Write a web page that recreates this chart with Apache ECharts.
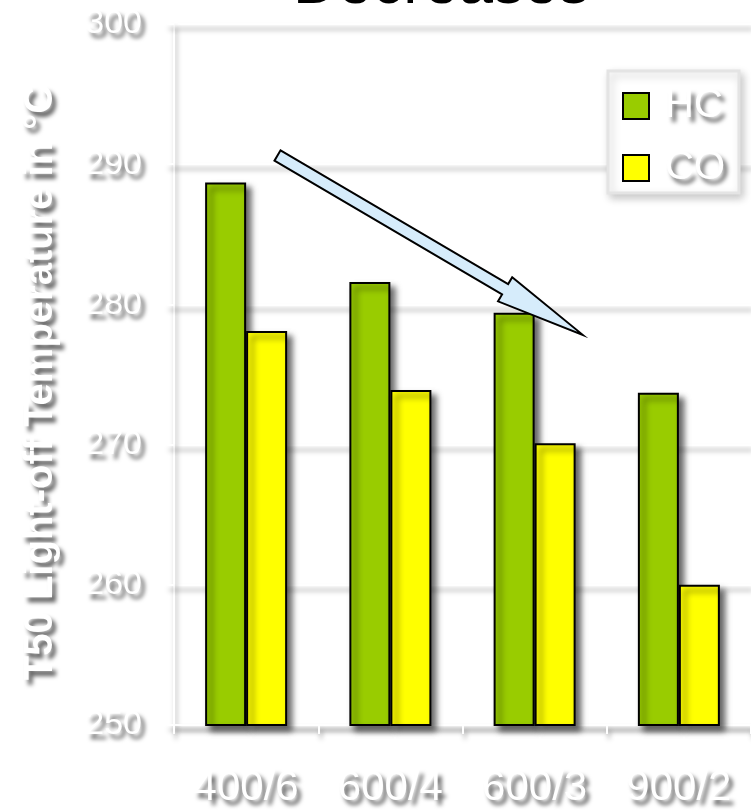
<!DOCTYPE html>
<html>
<head>
<meta charset="utf-8">
<title>T50 Light-off Temperature</title>
<script src="https://cdn.jsdelivr.net/npm/echarts@6/dist/echarts.min.js"></script>
<style>
  html, body { margin: 0; padding: 0; background: #fff; }
  #chart { width: 751px; height: 812px; }
</style>
</head>
<body>
<div id="chart"></div>
<script>
// Cell density / wall thickness variants
const categories = ['400/6', '600/4', '600/3', '900/2'];
// T50 light-off temperatures in °C
const hcValues = [288.7, 281.6, 279.4, 273.7];
const coValues = [278.1, 273.9, 270.1, 260.0];
const yMin = 250;
const yMax = 300;
const yStep = 10;

const FONT = '"Liberation Sans", Arial, sans-serif';

// white text with a grey drop shadow
const embossed = {
  color: '#ffffff',
  fontFamily: FONT,
  fontWeight: 'normal',
  textShadowColor: 'rgba(0,0,0,0.62)',
  textShadowBlur: 4,
  textShadowOffsetX: 4,
  textShadowOffsetY: 5
};

const shadowLine = {
  color: '#ffffff',
  width: 2,
  shadowColor: 'rgba(0,0,0,0.35)',
  shadowBlur: 5,
  shadowOffsetX: 2,
  shadowOffsetY: 5
};

const barShadow = {
  borderColor: '#000',
  borderWidth: 2,
  shadowColor: 'rgba(0,0,0,0.6)',
  shadowBlur: 6,
  shadowOffsetX: 5,
  shadowOffsetY: 5
};

const chart = echarts.init(document.getElementById('chart'), null, { renderer: 'canvas' });

// block arrow pointing down-right, built along the x axis then rotated
const arrowLen = 354, shaftHalf = 6, headHalf = 14, headLen = 90;
const arrowPoints = [
  [0, -shaftHalf], [arrowLen - headLen, -shaftHalf], [arrowLen - headLen, -headHalf],
  [arrowLen, 0],
  [arrowLen - headLen, headHalf], [arrowLen - headLen, shaftHalf], [0, shaftHalf]
];

chart.setOption({
  backgroundColor: '#ffffff',
  animation: false,
  title: {
    text: 'Decreases',
    left: 293,
    top: -45,
    padding: 0,
    textStyle: { color: '#000', fontFamily: FONT, fontSize: 62, fontWeight: 'normal' }
  },
  legend: {
    orient: 'vertical',
    left: 608,
    top: 71,
    padding: [15, 14, 5, 14],
    itemWidth: 26,
    itemHeight: 26,
    itemGap: 22,
    backgroundColor: '#ffffff',
    borderColor: '#e4e4e4',
    borderWidth: 3,
    shadowColor: 'rgba(0,0,0,0.2)',
    shadowBlur: 8,
    shadowOffsetX: 3,
    shadowOffsetY: 4,
    icon: 'rect',
    itemStyle: { borderColor: '#000', borderWidth: 2 },
    textStyle: Object.assign({}, embossed, { fontSize: 40, lineHeight: 40, padding: [0, 0, 0, 11] }),
    data: ['HC', 'CO']
  },
  grid: { left: 174, right: 0, top: 24, bottom: 87, containLabel: false },
  xAxis: {
    type: 'category',
    data: categories,
    axisLine: { show: true, lineStyle: shadowLine },
    axisTick: { show: true, length: 9, lineStyle: shadowLine },
    axisLabel: Object.assign({}, embossed, { fontSize: 42, margin: 42 })
  },
  yAxis: {
    type: 'value',
    min: yMin,
    max: yMax,
    interval: yStep,
    name: 'T50 Light-off Temperature in °C',
    nameLocation: 'middle',
    nameGap: 113,
    nameRotate: 90,
    nameTextStyle: Object.assign({}, embossed, { fontSize: 40, fontWeight: 'bold', padding: [0, 16, 0, 0] }),
    axisLine: { show: true, lineStyle: shadowLine },
    axisTick: { show: true, length: 7, lineStyle: shadowLine },
    axisLabel: Object.assign({}, embossed, { fontSize: 34, margin: 32 }),
    splitLine: { show: true, lineStyle: shadowLine }
  },
  series: [
    {
      name: 'HC',
      type: 'bar',
      data: hcValues,
      barWidth: 41,
      barGap: '0%',
      itemStyle: Object.assign({ color: '#99cc00' }, barShadow)
    },
    {
      name: 'CO',
      type: 'bar',
      data: coValues,
      barWidth: 41,
      barGap: '0%',
      itemStyle: Object.assign({ color: '#ffff00' }, barShadow)
    }
  ],
  graphic: [
    {
      type: 'polygon',
      x: 277.5,
      y: 155.5,
      rotation: -Math.atan2(179.5, 305.5),
      z: 100,
      shape: { points: arrowPoints },
      style: { fill: '#d6ecfb', stroke: '#000', lineWidth: 2, lineJoin: 'miter' }
    }
  ]
});
</script>
</body>
</html>
